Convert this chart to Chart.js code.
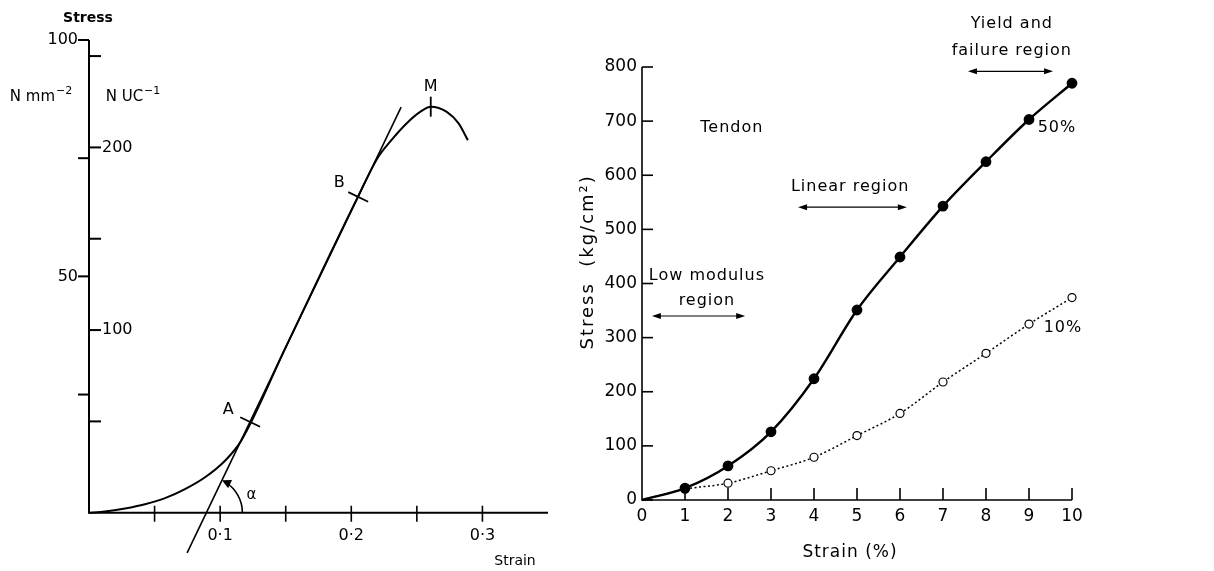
<!DOCTYPE html>
<html lang="en">
<head>
<meta charset="UTF-8">
<title>Stress-strain curves</title>
<script src="https://cdn.jsdelivr.net/npm/chart.js"></script>
<style>
  body { margin: 0; background: #fff; }
  #wrap { position: relative; width: 1214px; height: 571px; }
  #left { position: absolute; left: 0; top: 0; }
  #right { position: absolute; left: 560px; top: 0; }
</style>
</head>
<body>
<div id="wrap">
  <canvas id="left" width="560" height="571"></canvas>
  <canvas id="right" width="654" height="571"></canvas>
</div>
<script>
// ---- left panel: generic stress-strain curve ----
const curveStrain = [0, 0.0122, 0.0275, 0.0427, 0.058, 0.0732, 0.0885, 0.1037, 0.116, 0.15, 0.205,
  0.2204, 0.2296, 0.2423, 0.2525, 0.2606, 0.2728, 0.2817, 0.2889];
const curveStress = [0, 0.25, 0.9, 1.8, 3.1, 5.0, 7.5, 11.0, 15.2, 35.0, 66.8,
  75.2, 78.5, 82.4, 84.8, 85.9, 84.8, 82.4, 78.8];
const tangentStrain = [0.0748, 0.238];
const tangentStress = [-8.5, 85.8];
const pointNames = ['A', 'B', 'M'];
const pointStrain = [0.1229, 0.2053, 0.2606];
const pointStress = [19.2, 66.8, 85.9];
const strainTicks = [0.05, 0.1, 0.15, 0.2, 0.25, 0.3];
const strainLabels = ['', '0·1', '', '0·2', '', '0·3'];
const mmTicks = [25, 50, 75, 100];
const mmLabels = ['', '50', '', '100'];
const ucTicks = [50, 100, 150, 200, 250];
const ucLabels = ['', '100', '', '200', ''];
const ucPerMm = 2.588;

// ---- right panel: tendon ----
const strainPct = [0, 1, 2, 3, 4, 5, 6, 7, 8, 9, 10];
const stress50 = [0, 22, 63, 126, 224, 351, 449, 543, 625, 703, 770];
const stress10 = [0, 20, 31, 54, 79, 119, 160, 218, 271, 325, 374];
const pctTicks = [0, 1, 2, 3, 4, 5, 6, 7, 8, 9, 10];
const kgTicks = [0, 100, 200, 300, 400, 500, 600, 700, 800];

const FONT = '"DejaVu Sans", sans-serif';

function pts(xs, ys) {
  return xs.map((x, i) => ({ x: x, y: ys[i] }));
}

function arrowHead(ctx, x, y, ang, len, w) {
  ctx.beginPath();
  ctx.moveTo(x, y);
  ctx.lineTo(x - len * Math.cos(ang) + w * Math.sin(ang), y - len * Math.sin(ang) - w * Math.cos(ang));
  ctx.lineTo(x - len * Math.cos(ang) - w * Math.sin(ang), y - len * Math.sin(ang) + w * Math.cos(ang));
  ctx.closePath();
  ctx.fill();
}

// text with a raised exponent, centred on cx
function supText(ctx, base, sup, cx, cy, size) {
  ctx.font = size + 'px ' + FONT;
  const wb = ctx.measureText(base).width;
  ctx.font = Math.round(size * 0.72) + 'px ' + FONT;
  const ws = ctx.measureText(sup).width;
  const x1 = cx - (wb + ws + 1) / 2;
  ctx.textAlign = 'left';
  ctx.font = size + 'px ' + FONT;
  ctx.fillText(base, x1, cy);
  ctx.font = Math.round(size * 0.72) + 'px ' + FONT;
  ctx.fillText(sup, x1 + wb + 1, cy - size * 0.38);
}

// label offsets for A, B, M (pixels)
const pointLabelOffset = { A: [-22, -12], B: [-19, -14], M: [0, -20] };

const leftAxes = {
  id: 'leftAxes',
  afterDatasetsDraw(chart) {
    const { ctx, scales: { x, y, y2 } } = chart;
    const x0 = x.getPixelForValue(0), y0 = y.getPixelForValue(0);
    ctx.save();
    ctx.strokeStyle = '#000';
    ctx.fillStyle = '#000';
    ctx.lineWidth = 2;
    ctx.beginPath();
    ctx.moveTo(x0, y.getPixelForValue(100));
    ctx.lineTo(x0, y0);
    ctx.lineTo(x.getPixelForValue(0.35), y0);
    ctx.stroke();

    ctx.font = '16px ' + FONT;
    ctx.textBaseline = 'middle';
    // left stress ticks (N mm-2)
    ctx.textAlign = 'right';
    mmTicks.forEach((v, i) => {
      const py = y.getPixelForValue(v);
      ctx.beginPath(); ctx.moveTo(x0 - 11, py); ctx.lineTo(x0, py); ctx.stroke();
      if (mmLabels[i]) ctx.fillText(mmLabels[i], x0 - 11, py);
    });
    // right stress ticks (N UC-1)
    ctx.textAlign = 'left';
    ucTicks.forEach((v, i) => {
      const py = y2.getPixelForValue(v);
      ctx.beginPath(); ctx.moveTo(x0, py); ctx.lineTo(x0 + 12, py); ctx.stroke();
      if (ucLabels[i]) ctx.fillText(ucLabels[i], x0 + 13, py);
    });
    // strain ticks
    ctx.textAlign = 'center';
    ctx.lineWidth = 1.6;
    strainTicks.forEach((v, i) => {
      const px = x.getPixelForValue(v);
      ctx.beginPath(); ctx.moveTo(px, y0 - 7); ctx.lineTo(px, y0 + 9); ctx.stroke();
      if (strainLabels[i]) ctx.fillText(strainLabels[i], px, y0 + 23);
    });

    ctx.font = '14px ' + FONT;
    ctx.fillText('Strain', x0 + 426, y0 + 49);
    ctx.font = 'bold 14px ' + FONT;
    ctx.fillText('Stress', x0 - 1, y0 - 494);
    supText(ctx, 'N mm', '−2', x0 - 48, y0 - 416, 15);
    supText(ctx, 'N UC', '−1', x0 + 44, y0 - 416, 15);
    ctx.textAlign = 'center';

    // tangent geometry in pixels
    const tx1 = x.getPixelForValue(tangentStrain[0]), ty1 = y.getPixelForValue(tangentStress[0]);
    const tx2 = x.getPixelForValue(tangentStrain[1]), ty2 = y.getPixelForValue(tangentStress[1]);
    const dx = tx2 - tx1, dy = ty2 - ty1, dl = Math.hypot(dx, dy);
    const ux = dx / dl, uy = dy / dl;

    // A, B, M cross marks
    ctx.lineWidth = 1.8;
    ctx.font = '16px ' + FONT;
    pointNames.forEach((n, i) => {
      const px = x.getPixelForValue(pointStrain[i]), py = y.getPixelForValue(pointStress[i]);
      ctx.beginPath();
      if (n === 'M') {
        ctx.moveTo(px, py - 10); ctx.lineTo(px, py + 10);
      } else {
        ctx.moveTo(px - 11 * uy, py + 11 * ux); ctx.lineTo(px + 11 * uy, py - 11 * ux);
      }
      ctx.stroke();
      const off = pointLabelOffset[n];
      ctx.fillText(n, px + off[0], py + off[1]);
    });

    // alpha angle arc centred on the tangent's strain-axis intercept
    const cx = tx1 + (y0 - ty1) * dx / dy;
    const ang = Math.atan2(dy, dx);
    const r = 36;
    ctx.lineWidth = 1.6;
    ctx.beginPath();
    ctx.arc(cx, y0, r, 0, ang + 0.12, true);
    ctx.stroke();
    const ex = cx + r * Math.cos(ang), ey = y0 + r * Math.sin(ang);
    arrowHead(ctx, ex, ey, ang - Math.PI / 2, 9, 4.5);
    ctx.font = '15px ' + FONT;
    ctx.fillText('α', cx + 45, y0 - 18);
    ctx.restore();
  }
};

new Chart(document.getElementById('left'), {
  type: 'scatter',
  data: {
    datasets: [
      { data: pts(curveStrain, curveStress), showLine: true, borderColor: '#000', borderWidth: 2,
        pointRadius: 0, cubicInterpolationMode: 'monotone', clip: false },
      { data: pts(tangentStrain, tangentStress), showLine: true, borderColor: '#000', borderWidth: 1.6,
        pointRadius: 0, clip: false }
    ]
  },
  options: {
    responsive: false,
    animation: false,
    devicePixelRatio: 1,
    layout: { padding: { left: 89, right: 12, top: 40, bottom: 11 } },
    scales: {
      x: { type: 'linear', min: 0, max: 0.35, display: false },
      y: { type: 'linear', min: -10, max: 100, display: false },
      y2: { type: 'linear', axis: 'y', min: -10 * ucPerMm, max: 100 * ucPerMm, display: false }
    },
    plugins: { legend: { display: false }, tooltip: { enabled: false } }
  },
  plugins: [leftAxes]
});

// ---- right panel annotations ----
const rightNotes = [
  { text: 'Tendon', x: 2.09, y: 687 },
  { text: '50%', x: 9.65, y: 687 },
  { text: 'Linear region', x: 4.84, y: 578 },
  { text: 'Yield and', x: 8.6, y: 879 },
  { text: 'failure region', x: 8.6, y: 829 },
  { text: 'Low modulus', x: 1.51, y: 414 },
  { text: 'region', x: 1.51, y: 368 },
  { text: '10%', x: 9.79, y: 318 }
];
const rightArrows = [
  { from: 0.23, to: 2.4, y: 340 },
  { from: 3.63, to: 6.16, y: 541 },
  { from: 7.58, to: 9.56, y: 792 }
];

const rightAxes = {
  id: 'rightAxes',
  beforeDatasetsDraw(chart) {
    const { ctx, scales: { x, y } } = chart;
    const x0 = x.getPixelForValue(0), y0 = y.getPixelForValue(0);
    ctx.save();
    ctx.strokeStyle = '#000';
    ctx.fillStyle = '#000';
    ctx.lineWidth = 1.6;
    ctx.beginPath();
    ctx.moveTo(x0, y.getPixelForValue(800));
    ctx.lineTo(x0, y0);
    ctx.lineTo(x.getPixelForValue(10), y0);
    ctx.stroke();
    ctx.font = '17px ' + FONT;
    ctx.textBaseline = 'middle';
    ctx.textAlign = 'right';
    kgTicks.forEach(v => {
      const py = y.getPixelForValue(v);
      ctx.beginPath(); ctx.moveTo(x0, py); ctx.lineTo(x0 + 11, py); ctx.stroke();
      ctx.fillText(String(v), x0 - 5, py);
    });
    ctx.textAlign = 'center';
    pctTicks.forEach(v => {
      const px = x.getPixelForValue(v);
      if (v > 0) { ctx.beginPath(); ctx.moveTo(px, y0); ctx.lineTo(px, y0 - 12); ctx.stroke(); }
      ctx.fillText(String(v), px, y0 + 17);
    });
    ctx.letterSpacing = '1px';
    ctx.fillText('Strain (%)', x0 + 208, y0 + 53);
    ctx.save();
    ctx.translate(x0 - 54, y.getPixelForValue(440));
    ctx.rotate(-Math.PI / 2);
    ctx.font = '18px ' + FONT;
    ctx.letterSpacing = '2px';
    ctx.fillText('Stress  (kg/cm²)', 0, 0);
    ctx.restore();
    ctx.restore();
  },
  afterDraw(chart) {
    const { ctx, scales: { x, y } } = chart;
    ctx.save();
    ctx.fillStyle = '#000';
    ctx.strokeStyle = '#000';
    ctx.font = '16px ' + FONT;
    ctx.textAlign = 'center';
    ctx.textBaseline = 'middle';
    ctx.letterSpacing = '1px';
    rightNotes.forEach(n => ctx.fillText(n.text, x.getPixelForValue(n.x), y.getPixelForValue(n.y)));
    ctx.lineWidth = 1.2;
    rightArrows.forEach(a => {
      const x1 = x.getPixelForValue(a.from), x2 = x.getPixelForValue(a.to), py = y.getPixelForValue(a.y);
      ctx.beginPath(); ctx.moveTo(x1 + 4, py); ctx.lineTo(x2 - 4, py); ctx.stroke();
      arrowHead(ctx, x2, py, 0, 9, 3);
      arrowHead(ctx, x1, py, Math.PI, 9, 3);
    });
    ctx.restore();
  }
};

new Chart(document.getElementById('right'), {
  type: 'scatter',
  data: {
    datasets: [
      { label: '50%', data: pts(strainPct, stress50), showLine: true, borderColor: '#000', borderWidth: 2.4,
        cubicInterpolationMode: 'monotone', clip: false,
        pointRadius: c => c.dataIndex === 0 ? 0 : 4.2, pointBackgroundColor: '#000', pointBorderColor: '#000' },
      { label: '10%', data: pts(strainPct, stress10), showLine: true, borderColor: '#000', borderWidth: 1.5,
        borderDash: [2, 2.5], cubicInterpolationMode: 'monotone', clip: false,
        pointRadius: c => c.dataIndex === 0 ? 0 : 4, pointBackgroundColor: '#fff', pointBorderColor: '#000',
        pointBorderWidth: 1.2 }
    ]
  },
  options: {
    responsive: false,
    animation: false,
    devicePixelRatio: 1,
    layout: { padding: { left: 82, right: 142, top: 67, bottom: 71 } },
    scales: {
      x: { type: 'linear', min: 0, max: 10, display: false },
      y: { type: 'linear', min: 0, max: 800, display: false }
    },
    plugins: { legend: { display: false }, tooltip: { enabled: false } }
  },
  plugins: [rightAxes]
});
</script>
</body>
</html>
